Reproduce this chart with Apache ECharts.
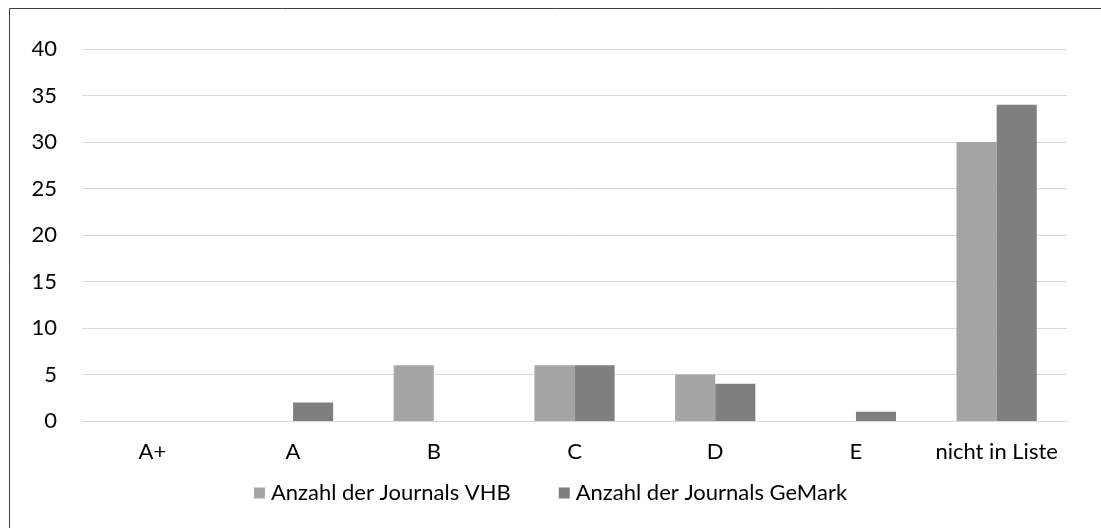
<!DOCTYPE html>
<html><head><meta charset="utf-8">
<script src="https://cdn.jsdelivr.net/npm/echarts@6/dist/echarts.min.js"></script>
<style>html,body{margin:0;padding:0;background:#fff}#c{width:1101px;height:528px}</style>
</head><body><div id="c"></div>
<script>
const categories = ['A+', 'A', 'B', 'C', 'D', 'E', 'nicht in Liste'];
const vhb = [0, 0, 6, 6, 5, 0, 30];
const gemark = [0, 2, 0, 6, 4, 1, 34];
const seriesNames = ['Anzahl der Journals VHB', 'Anzahl der Journals GeMark'];
const font = 'Lato, Carlito, Calibri, sans-serif';
const chart = echarts.init(document.getElementById('c'));
chart.setOption({
  animation: false,
  textStyle: { fontFamily: font },
  graphic: [{ type: 'rect', shape: { x: 9.5, y: 8.5, width: 1200, height: 700 }, style: { fill: 'none', stroke: '#404040', lineWidth: 1 }, silent: true }],
  grid: { left: 82, right: 34, top: 49, bottom: 107 },
  legend: {
    top: 477, left: 'center', itemWidth: 11, itemHeight: 11, itemGap: 48,
    icon: 'rect',
    textStyle: { fontFamily: font, fontSize: 22, color: '#000', padding: [0, 0, 0, 1] },
    data: seriesNames
  },
  xAxis: {
    type: 'category', data: categories,
    axisLine: { lineStyle: { color: '#d9d9d9' } },
    axisTick: { show: false },
    axisLabel: { color: '#000', fontSize: 22, fontFamily: font, margin: 20, interval: 0 }
  },
  yAxis: {
    type: 'value', min: 0, max: 40, interval: 5,
    axisLabel: { color: '#000', fontSize: 22, fontFamily: font, margin: 25 },
    splitLine: { lineStyle: { color: '#d9d9d9' } },
    axisLine: { show: false }, axisTick: { show: false }
  },
  series: [
    { name: seriesNames[0], type: 'bar', data: vhb, barGap: '0%', barCategoryGap: '43%', itemStyle: { color: '#a5a5a5' } },
    { name: seriesNames[1], type: 'bar', data: gemark, barGap: '0%', barCategoryGap: '43%', itemStyle: { color: '#7f7f7f' } }
  ]
});
</script></body></html>
